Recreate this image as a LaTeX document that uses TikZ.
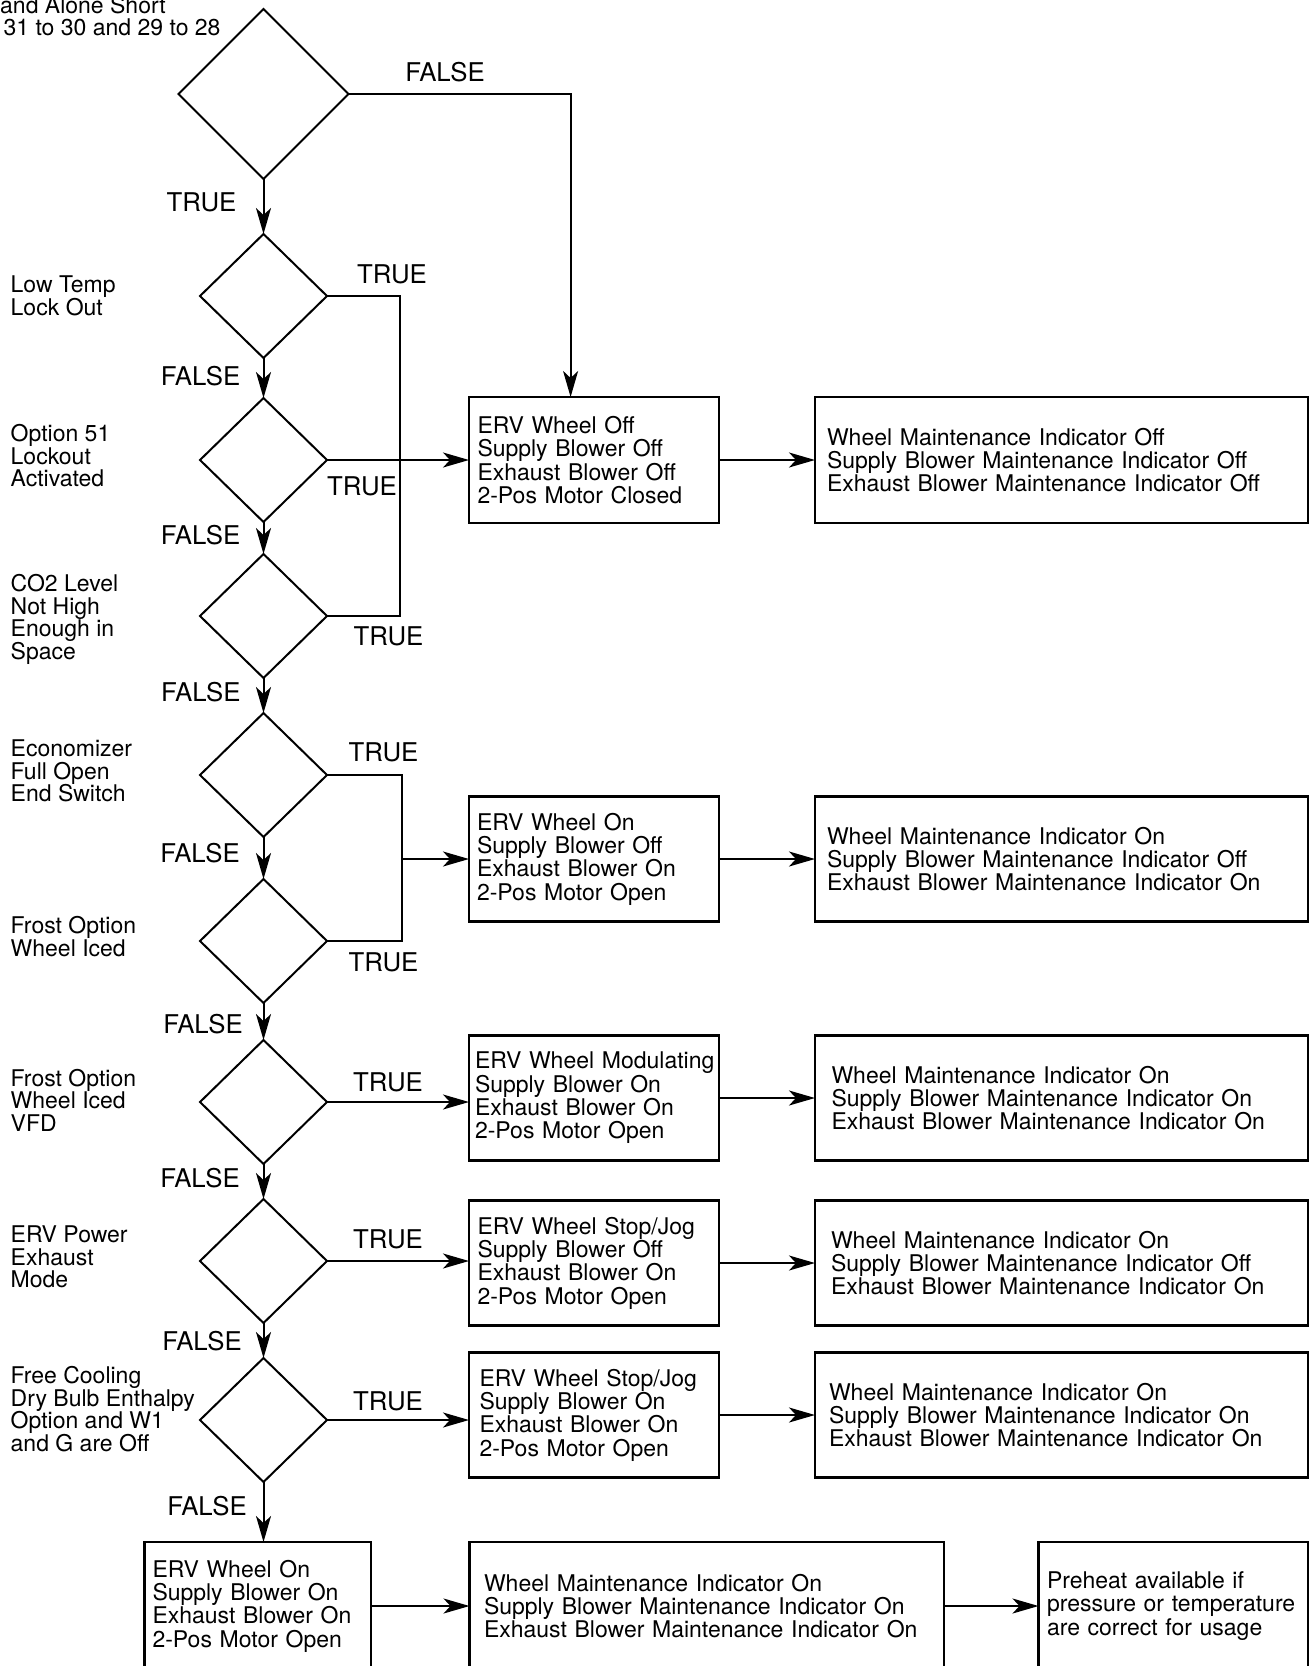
\documentclass[tikz,border=0pt]{standalone}
\usepackage{fontspec}
\setmainfont{TeX Gyre Heros}
\usetikzlibrary{shapes.geometric,arrows.meta}
\newcommand\myboxfont{\fontsize{23}{23.3}\selectfont\hyphenpenalty=10000\relax}
\newcommand\mysidefont{\fontsize{23}{22.6}\selectfont}
\newcommand\mylblfont{\fontsize{25.8}{26}\selectfont}
\tikzset{
  dia/.style={draw, shape=diamond, line width=2pt, inner sep=0pt, outer sep=0pt,
    minimum width=127pt, minimum height=124pt},
  bigdia/.style={dia, minimum width=170pt, minimum height=170pt},
  bx/.style n args={3}{draw, rectangle, line width=2.4pt, outer sep=0pt, inner ysep=0pt,
    text width=#1pt, inner xsep=#2pt, minimum height=#3pt, align=left, font=\myboxfont},
  lbl/.style={font=\mylblfont, inner sep=0pt},
  side/.style={font=\mysidefont, align=left, anchor=west, inner sep=0pt},
  toptxt/.style={font=\myboxfont, anchor=base east, inner sep=0pt},
  ln/.style={line width=2pt},
  arr/.style={line width=2pt, -{Stealth[length=26pt,width=15pt,inset=7pt]}},
}
\begin{document}
\begin{tikzpicture}[x=1pt,y=-1pt]
\useasboundingbox (0,0) rectangle (1310,1666);
\fill[white] (0,0) rectangle (1310,1666);

% top cut text
\node[toptxt] (t1) at (166,13) {and Alone Short};
\node[toptxt] (t2) at (220.7,35) {31 to 30 and 29 to 28};

% diamonds
\node[bigdia] (d1) at (263.5,94) {};
\node[dia] (d2) at (263.5,296) {};
\node[dia] (d3) at (263.5,460) {};
\node[dia] (d4) at (263.5,616) {};
\node[dia] (d5) at (263.5,775) {};
\node[dia] (d6) at (263.5,941) {};
\node[dia] (d7) at (263.5,1102) {};
\node[dia] (d8) at (263.5,1261) {};
\node[dia] (d9) at (263.5,1420) {};

% side labels
\node[side] (s1) at (10.5,295.6) {Low Temp\\Lock Out};
\node[side] (s2) at (10.5,455.7) {Option 51\\Lockout\\Activated};
\node[side] (s3) at (10.5,619.5) {CO2 Level\\Not High\\Enough in\\Space};
\node[side] (s4) at (10.5,771) {Economizer\\Full Open\\End Switch};
\node[side] (s5) at (10.5,936.5) {Frost Option\\Wheel Iced};
\node[side] (s6) at (10.5,1100) {Frost Option\\Wheel Iced\\VFD};
\node[side] (s7) at (10.5,1257) {ERV Power\\Exhaust\\Mode};
\node[side] (s8) at (10.5,1409.2) {Free Cooling\\Dry Bulb Enthalpy\\Option and W1\\and G are Off};

% boxes
\node[bx={233}{8.5}{126}] (A) at (594,460) {ERV Wheel Off\\Supply Blower Off\\Exhaust Blower Off\\2-Pos Motor Closed};
\node[bx={469}{12}{126}] (B) at (1061.5,460) {Wheel Maintenance Indicator Off\\Supply Blower Maintenance Indicator Off\\Exhaust Blower Maintenance Indicator Off};
\node[bx={234}{8}{125}] (C) at (594,859) {ERV Wheel On\\Supply Blower Off\\Exhaust Blower On\\2-Pos Motor Open};
\node[bx={469}{12}{125}] (D) at (1061.5,859) {Wheel Maintenance Indicator On\\Supply Blower Maintenance Indicator Off\\Exhaust Blower Maintenance Indicator On};
\node[bx={238}{6}{125}] (E) at (594,1098) {\mbox{ERV Wheel Modulating}\\Supply Blower On\\Exhaust Blower On\\2-Pos Motor Open};
\node[bx={460}{16.5}{125}] (F) at (1061.5,1098) {Wheel Maintenance Indicator On\\Supply Blower Maintenance Indicator On\\Exhaust Blower Maintenance Indicator On};
\node[bx={233}{8.5}{125}] (G) at (594,1263) {ERV Wheel Stop/Jog\\Supply Blower Off\\Exhaust Blower On\\2-Pos Motor Open};
\node[bx={461}{16}{125}] (H) at (1061.5,1263) {Wheel Maintenance Indicator On\\Supply Blower Maintenance Indicator Off\\Exhaust Blower Maintenance Indicator On};
\node[bx={229}{10.5}{125}] (I) at (594,1415) {ERV Wheel Stop/Jog\\Supply Blower On\\Exhaust Blower On\\2-Pos Motor Open};
\node[bx={465}{14}{125}] (J) at (1061.5,1415) {Wheel Maintenance Indicator On\\Supply Blower Maintenance Indicator On\\Exhaust Blower Maintenance Indicator On};
\node[bx={210.5}{8}{128}] (K) at (257.75,1606) {ERV Wheel On\\Supply Blower On\\Exhaust Blower On\\2-Pos Motor Open};
\node[bx={445.5}{14.5}{128}] (L) at (706.75,1606) {Wheel Maintenance Indicator On\\Supply Blower Maintenance Indicator On\\Exhaust Blower Maintenance Indicator On};
\node[bx={252.5}{8.5}{128}] (M) at (1173.25,1606) {Preheat available if\\pressure or temperature\\are correct for usage};

% vertical flow
\draw[arr] (d1.south) -- (d2.north);
\draw[arr] (d2.south) -- (d3.north);
\draw[arr] (d3.south) -- (d4.north);
\draw[arr] (d4.south) -- (d5.north);
\draw[arr] (d5.south) -- (d6.north);
\draw[arr] (d6.south) -- (d7.north);
\draw[arr] (d7.south) -- (d8.north);
\draw[arr] (d8.south) -- (d9.north);
\draw[arr] (d9.south) -- (d9.south |- K.north);

% first diamond false branch
\coordinate (c1) at (570.6,94);
\draw[arr] (d1.east) -- (c1) -- (c1 |- A.north);

% group 1
\coordinate (j1) at (400,296);
\draw[ln] (d2.east) -- (j1) -- (j1 |- d4.east) -- (d4.east);
\draw[arr] (d3.east) -- (A.west);

% group 2
\coordinate (j2) at (402,775);
\draw[ln] (d5.east) -- (j2) -- (j2 |- d6.east) -- (d6.east);
\draw[arr] (j2 |- C.west) -- (C.west);

% other true branches
\draw[arr] (d7.east) -- (d7.east -| E.west);
\draw[arr] (d8.east) -- (d8.east -| G.west);
\draw[arr] (d9.east) -- (d9.east -| I.west);

% box to box
\draw[arr] (A.east) -- (B.west);
\draw[arr] (C.east) -- (D.west);
\draw[arr] (E.east) -- (F.west);
\draw[arr] (G.east) -- (H.west);
\draw[arr] (I.east) -- (J.west);
\draw[arr] (K.east) -- (L.west);
\draw[arr] (L.east) -- (M.west);

% labels
\node[lbl] (lf1) at (445,71.7) {FALSE};
\node[lbl] (lt1) at (201.5,202.5) {TRUE};
\node[lbl] (lt2) at (392,274) {TRUE};
\node[lbl] (lf2) at (200.6,376) {FALSE};
\node[lbl] (lt3) at (362,486) {TRUE};
\node[lbl] (lf3) at (200.6,535.5) {FALSE};
\node[lbl] (lt4) at (388.5,636) {TRUE};
\node[lbl] (lf4) at (200.8,692.5) {FALSE};
\node[lbl] (lt5) at (383.5,752.5) {TRUE};
\node[lbl] (lf5) at (200,853) {FALSE};
\node[lbl] (lt6) at (383.5,962.5) {TRUE};
\node[lbl] (lf6) at (203,1024) {FALSE};
\node[lbl] (lt7) at (388,1082) {TRUE};
\node[lbl] (lf7) at (200,1178.5) {FALSE};
\node[lbl] (lt8) at (388,1239) {TRUE};
\node[lbl] (lf8) at (202,1341) {FALSE};
\node[lbl] (lt9) at (388,1401.3) {TRUE};
\node[lbl] (lf9) at (207,1505.6) {FALSE};
\end{tikzpicture}
\end{document}
